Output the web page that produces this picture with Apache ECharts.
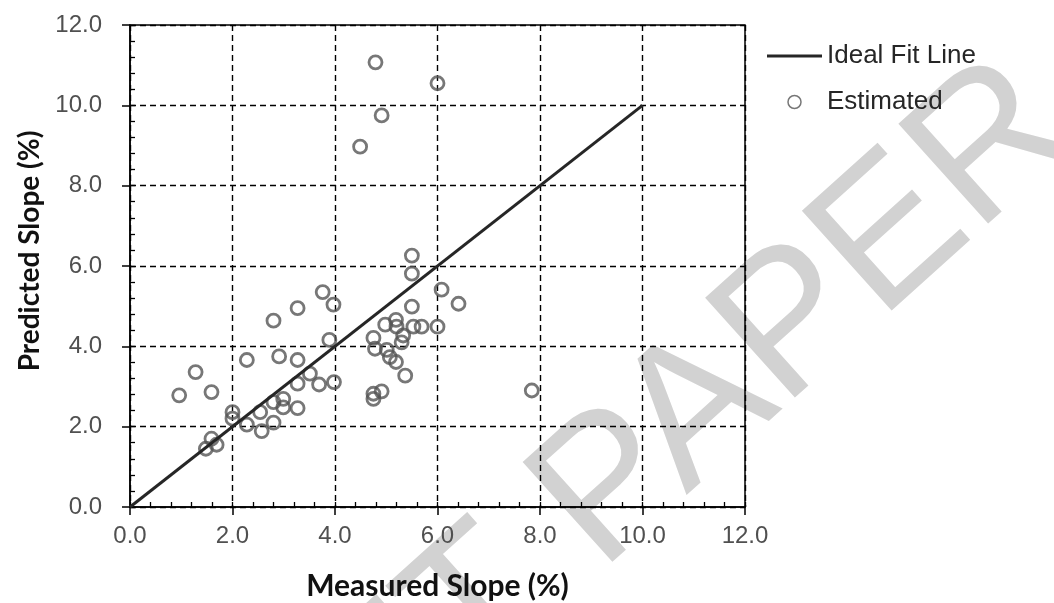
<!DOCTYPE html>
<html>
<head>
<meta charset="utf-8">
<script src="https://cdn.jsdelivr.net/npm/echarts@6/dist/echarts.min.js"></script>
<style>
  html, body { margin: 0; padding: 0; background: #fff; }
  #main { width: 1054px; height: 603px; }
</style>
</head>
<body>
<div id="main"></div>
<script>
// measured vs predicted slope (%)
const measured = [
  0.96, 1.28, 1.59, 1.48, 1.59, 1.69, 2.00, 2.00, 2.28, 2.28,
  2.54, 2.57, 2.80, 2.80, 2.99, 2.99, 2.80, 2.91, 3.27, 3.27,
  3.27, 3.27, 3.51, 3.69, 3.76, 3.97, 3.89, 3.98, 5.50, 5.50,
  6.08, 6.41, 5.50, 4.98, 5.19, 5.20, 5.53, 5.69, 6.00, 4.75,
  5.33, 5.30, 4.78, 5.01, 5.07, 5.19, 5.37, 4.75, 4.75, 4.91,
  7.84, 4.79, 6.00, 4.91, 4.49
];
const predicted = [
  2.78, 3.36, 2.86, 1.45, 1.70, 1.55, 2.36, 2.20, 3.66, 2.05,
  2.36, 1.89, 4.64, 2.61, 2.69, 2.48, 2.10, 3.75, 4.95, 3.66,
  3.07, 2.46, 3.32, 3.05, 5.35, 5.04, 4.16, 3.11, 6.26, 5.81,
  5.41, 5.06, 4.99, 4.54, 4.66, 4.49, 4.49, 4.49, 4.49, 4.21,
  4.27, 4.10, 3.94, 3.91, 3.73, 3.61, 3.27, 2.82, 2.69, 2.88,
  2.90, 11.07, 10.55, 9.75, 8.97
];
const fitLine = [[0, 0], [10, 10]];
const tickLabels = ['0.0', '2.0', '4.0', '6.0', '8.0', '10.0', '12.0'];

const points = measured.map((x, i) => [x, predicted[i]]);

const chart = echarts.init(document.getElementById('main'));

const labelFmt = v => tickLabels[Math.round(v / 2)];

const dashed = { show: true, lineStyle: { color: '#000', width: 1.4, type: [6, 4] } };

const option = {
  animation: false,
  grid: {
    left: 130, top: 25, width: 615, height: 482,
    outerBoundsMode: 'none',
    containLabel: false,
    show: true, borderColor: '#000', borderWidth: 1.5
  },
  graphic: [{
    // watermark
    type: 'text',
    x: 1045, y: 100,
    rotation: 42 * Math.PI / 180,
    z: -10,
    silent: true,
    style: {
      text: 'DRAFT PAPER',
      font: '195px "Liberation Sans", Arial, sans-serif',
      fill: '#d2d2d2',
      align: 'right',
      verticalAlign: 'middle'
    }
  }],
  legend: {
    orient: 'vertical',
    left: 767, top: 43, padding: 0,
    itemWidth: 55, itemHeight: 13, itemGap: 20,
    textStyle: { fontFamily: 'Liberation Sans', fontSize: 26, color: '#262626' },
    data: [
      { name: 'Ideal Fit Line', icon: 'path://M0,0H110V6H0Z', itemStyle: { color: '#262626' } },
      { name: 'Estimated', itemStyle: { borderWidth: 1.5 } }
    ]
  },
  xAxis: [{
    type: 'value', min: 0, max: 12, interval: 2,
    name: 'Measured Slope (%)', nameLocation: 'middle', nameGap: 64,
    nameTextStyle: { fontFamily: 'Lato', fontWeight: 'bold', fontSize: 30, color: '#111' },
    axisLine: { show: true, onZero: false, lineStyle: { color: '#000', width: 1.5 } },
    axisTick: { show: true, length: 8, lineStyle: { color: '#000', width: 1.5 } },
    axisLabel: { margin: 17, formatter: labelFmt, fontFamily: 'Liberation Sans', fontSize: 24, color: '#505050' },
    splitLine: dashed
  }, {
    type: 'value', min: 0, max: 12, interval: 2, position: 'bottom',
    axisLine: { show: false },
    axisTick: { show: true, inside: true, length: 5, lineStyle: { color: '#000', width: 1.3 } },
    minorTick: { show: true, splitNumber: 5, length: 5, lineStyle: { color: '#000', width: 1.3 } },
    axisLabel: { show: false },
    splitLine: { show: false }
  }],
  yAxis: [{
    type: 'value', min: 0, max: 12, interval: 2,
    name: 'Predicted Slope (%)', nameLocation: 'middle', nameGap: 85, nameRotate: 90,
    nameTextStyle: { fontFamily: 'Lato', fontWeight: 'bold', fontSize: 28, color: '#111', padding: [0, 0, 0, 30] },
    axisLine: { show: true, onZero: false, lineStyle: { color: '#000', width: 1.5 } },
    axisTick: { show: true, length: 8, lineStyle: { color: '#000', width: 1.5 } },
    axisLabel: { margin: 28, formatter: labelFmt, fontFamily: 'Liberation Sans', fontSize: 24, color: '#505050' },
    splitLine: dashed
  }, {
    type: 'value', min: 0, max: 12, interval: 2, position: 'left',
    axisLine: { show: false },
    axisTick: { show: true, inside: true, length: 5, lineStyle: { color: '#000', width: 1.3 } },
    minorTick: { show: true, splitNumber: 5, length: 5, lineStyle: { color: '#000', width: 1.3 } },
    axisLabel: { show: false },
    splitLine: { show: false }
  }],
  series: [{
    name: 'Ideal Fit Line',
    type: 'line',
    data: fitLine,
    symbol: 'none',
    z: 3,
    lineStyle: { color: '#262626', width: 3 },
    itemStyle: { color: '#262626' }
  }, {
    name: 'Estimated',
    type: 'scatter',
    data: points,
    symbol: 'circle',
    symbolSize: 13,
    z: 2,
    itemStyle: { color: 'rgba(0,0,0,0)', borderColor: '#555', borderWidth: 2.8 }
  }]
};

chart.setOption(option);
</script>
</body>
</html>
